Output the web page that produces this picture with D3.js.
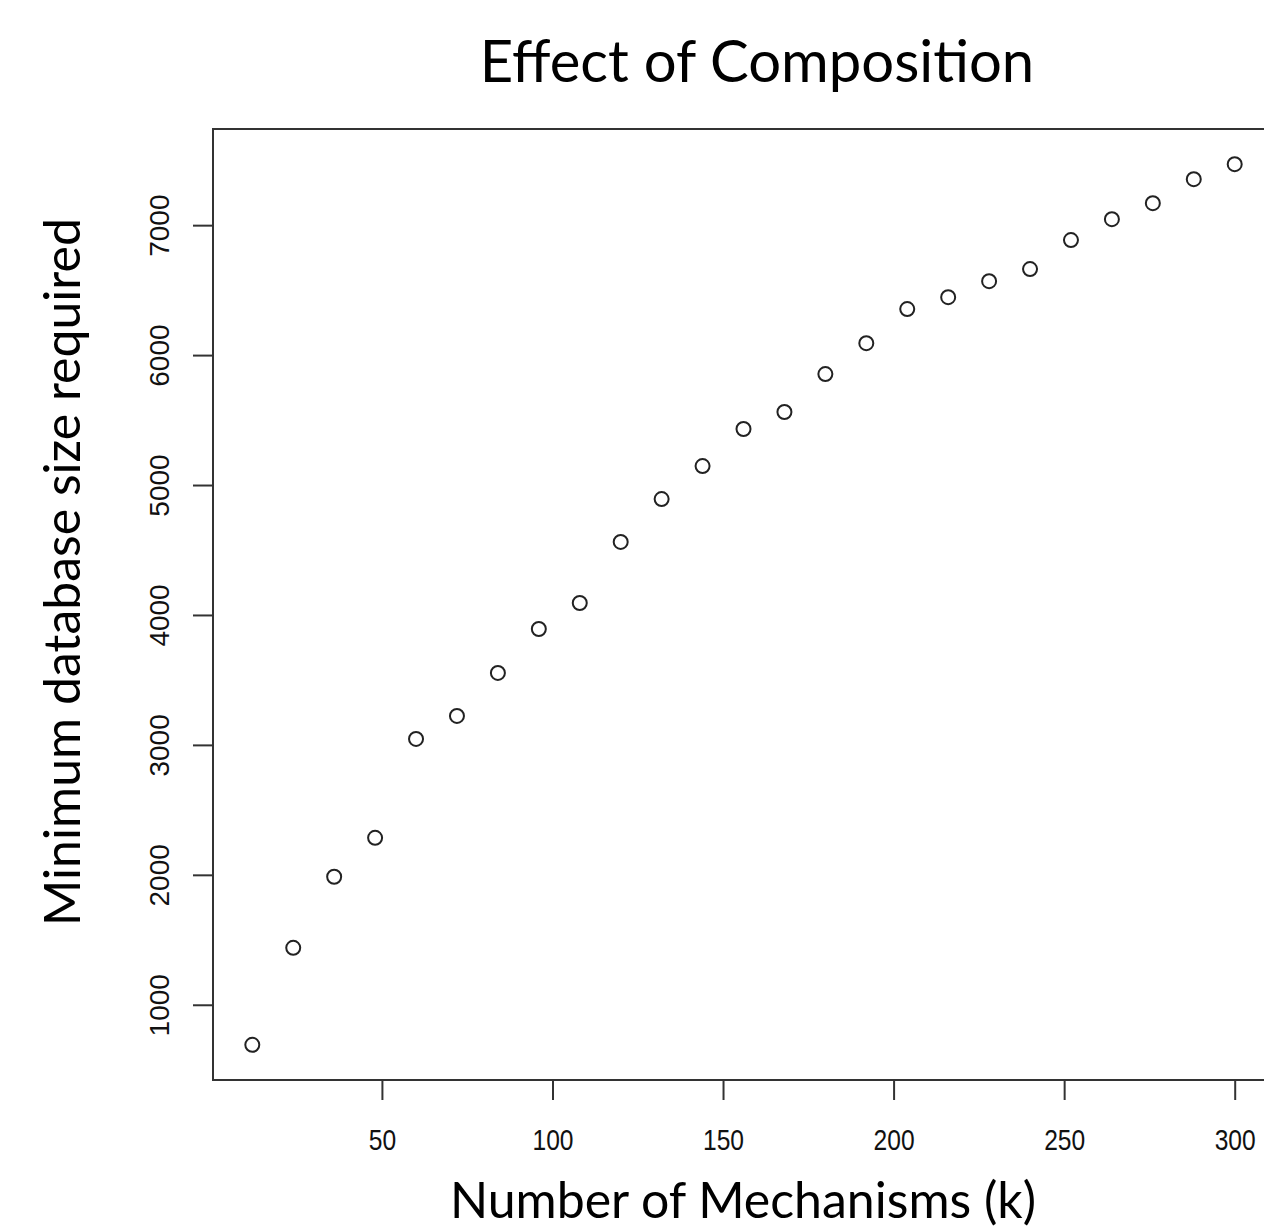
<!DOCTYPE html>
<html><head><meta charset="utf-8">
<script src="https://cdn.jsdelivr.net/npm/d3@7"></script>
<style>body{margin:0;background:#fff;overflow:hidden}</style>
</head><body>
<script>
const kValues = [12,24,36,48,60,72,84,96,108,120,132,144,156,168,180,192,204,216,228,240,252,264,276,288,300];
const dbSize = [692,1438,1985,2285,3046,3223,3554,3892,4092,4562,4892,5146,5431,5562,5854,6092,6354,6446,6569,6662,6885,7046,7169,7354,7469];
const xTicks = [50,100,150,200,250,300];
const yTicks = [1000,2000,3000,4000,5000,6000,7000];
const titleText = "Effect of Composition";
const xLabel = "Number of Mechanisms (k)";
const yLabel = "Minimum database size required";

const W = 1264, H = 1228;
const L = 213, R = 1274, T = 129, B = 1080;
const svg = d3.select("body").append("svg").attr("width", W).attr("height", H);

const x = d3.scaleLinear().domain([0.48, 311.52]).range([L, R]);
const y = d3.scaleLinear().domain([421, 7740]).range([B, T]);

svg.append("rect").attr("x", L).attr("y", T).attr("width", R - L).attr("height", B - T)
  .attr("fill", "none").attr("stroke", "#333").attr("stroke-width", 2);

const xa = svg.append("g").attr("transform", `translate(0,${B})`)
  .call(d3.axisBottom(x).tickValues(xTicks).tickSize(20).tickFormat(d3.format("d")));
xa.select(".domain").remove();
xa.selectAll("line").attr("stroke", "#333").attr("stroke-width", 2);
xa.selectAll("text").attr("font-family", "Liberation Sans, Arial, sans-serif").attr("font-size", 30).attr("fill", "#111")
  .attr("y", 70).attr("dy", 0).attr("transform", "scale(0.82,1)");

const ya = svg.append("g").attr("transform", `translate(${L},0)`)
  .call(d3.axisLeft(y).tickValues(yTicks).tickSize(20).tickFormat(d3.format("d")));
ya.select(".domain").remove();
ya.selectAll("line").attr("stroke", "#333").attr("stroke-width", 2);
ya.selectAll("text").attr("font-family", "Liberation Sans, Arial, sans-serif").attr("font-size", 28).attr("fill", "#111")
  .attr("text-anchor", "middle").attr("x", 0).attr("dy", 0)
  .attr("transform", "translate(-44,0) rotate(-90)");

svg.append("g").selectAll("circle").data(kValues.map((k, i) => [k, dbSize[i]])).join("circle")
  .attr("cx", d => x(d[0])).attr("cy", d => y(d[1])).attr("r", 7)
  .attr("fill", "none").attr("stroke", "#222").attr("stroke-width", 2);

svg.append("text").attr("x", 757).attr("y", 82).attr("text-anchor", "middle")
  .attr("font-family", "Lato, 'Open Sans', sans-serif").attr("font-size", 58).attr("fill", "#000").text(titleText);
svg.append("text").attr("x", 743).attr("y", 1218).attr("text-anchor", "middle")
  .attr("font-family", "Lato, 'Open Sans', sans-serif").attr("font-size", 50).attr("fill", "#000").text(xLabel);
svg.append("text").attr("transform", "translate(80,572) rotate(-90)").attr("text-anchor", "middle")
  .attr("font-family", "Lato, 'Open Sans', sans-serif").attr("font-size", 50).attr("fill", "#000").text(yLabel);
</script>
</body></html>
